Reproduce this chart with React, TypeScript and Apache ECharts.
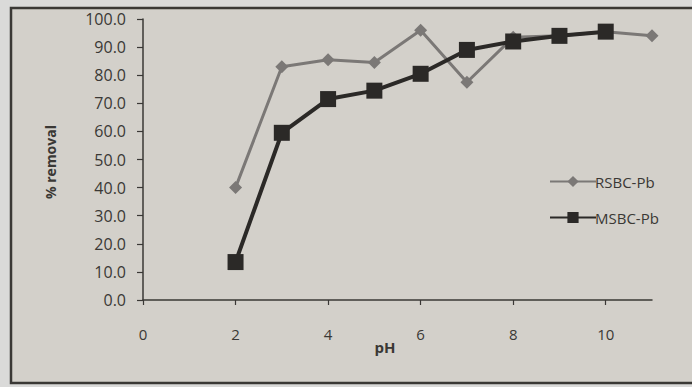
import React, { useEffect, useRef } from "react";
import * as echarts from "echarts";

const pH = [2, 3, 4, 5, 6, 7, 8, 9, 10, 11];
const rsbcPb = [40, 83, 85.5, 84.5, 96, 77.5, 93.5, 94, 95.5, 94];
const msbcPb = [13.5, 59.5, 71.5, 74.5, 80.5, 89, 92, 94, 95.5];
const xTickValues = [0, 2, 4, 6, 8, 10];

export default function App() {
  const ref = useRef<HTMLDivElement>(null);
  useEffect(() => {
    const chart = echarts.init(ref.current!, null, { renderer: "svg" });
    const font = "'Open Sans', 'Noto Sans', sans-serif";
    chart.setOption({
      animation: false,
      backgroundColor: "#dadad9",
      textStyle: { fontFamily: font },
      grid: { left: 143, top: 19, right: 40, bottom: 87, containLabel: false },
      graphic: [
        {
          type: "rect",
          shape: { x: 11, y: 8, width: 700, height: 375 },
          style: { fill: "#d3d0ca", stroke: "#3a3835", lineWidth: 2.5 },
          z: -10,
        },
        {
          type: "text",
          x: 50,
          y: 162,
          rotation: Math.PI / 2,
          style: {
            text: "% removal",
            font: `bold 14px ${font}`,
            fill: "#3a3835",
            align: "center",
            verticalAlign: "middle",
          },
        },
        {
          type: "text",
          x: 385,
          y: 347,
          style: {
            text: "pH",
            font: `bold 15px ${font}`,
            fill: "#3a3835",
            align: "center",
            verticalAlign: "middle",
          },
        },
      ],
      legend: {
        orient: "vertical",
        left: 544,
        top: 169,
        itemGap: 21,
        itemWidth: 46,
        itemHeight: 14,
        textStyle: { fontSize: 15, color: "#3a3835", fontFamily: font, padding: [0, 0, 0, -6] },
        data: ["RSBC-Pb", "MSBC-Pb"],
      },
      xAxis: {
        type: "value",
        min: 0,
        max: 11,
        interval: 2,
        splitLine: { show: false },
        axisLine: { lineStyle: { color: "#3a3835", width: 1.5 } },
        axisTick: {
          show: true,
          length: 5,
          customValues: xTickValues,
          lineStyle: { color: "#3a3835", width: 1.2 },
        },
        axisLabel: {
          customValues: xTickValues,
          margin: 26,
          fontSize: 15,
          color: "#3a3835",
          fontFamily: font,
        },
      },
      yAxis: {
        type: "value",
        min: 0,
        max: 100,
        interval: 10,
        splitLine: { show: false },
        axisLine: { show: true, lineStyle: { color: "#3a3835", width: 1.5 } },
        axisTick: { show: true, length: 6, lineStyle: { color: "#3a3835", width: 1.2 } },
        axisLabel: {
          margin: 17,
          fontSize: 16,
          color: "#3a3835",
          fontFamily: font,
          formatter: (v: number) => v.toFixed(1),
        },
      },
      series: [
        {
          name: "RSBC-Pb",
          type: "line",
          data: pH.map((x, i) => [x, rsbcPb[i]]),
          symbol: "diamond",
          symbolSize: 13,
          lineStyle: { color: "#7b7876", width: 3 },
          itemStyle: { color: "#7b7876" },
          z: 2,
        },
        {
          name: "MSBC-Pb",
          type: "line",
          data: msbcPb.map((y, i) => [pH[i], y]),
          symbol: "rect",
          symbolSize: 16,
          lineStyle: { color: "#2b2927", width: 4 },
          itemStyle: { color: "#2b2927" },
          z: 3,
        },
      ],
    });
    return () => chart.dispose();
  }, []);
  return (
    <div
      ref={ref}
      style={{ position: "fixed", left: 0, top: 0, width: 692, height: 387 }}
    />
  );
}
